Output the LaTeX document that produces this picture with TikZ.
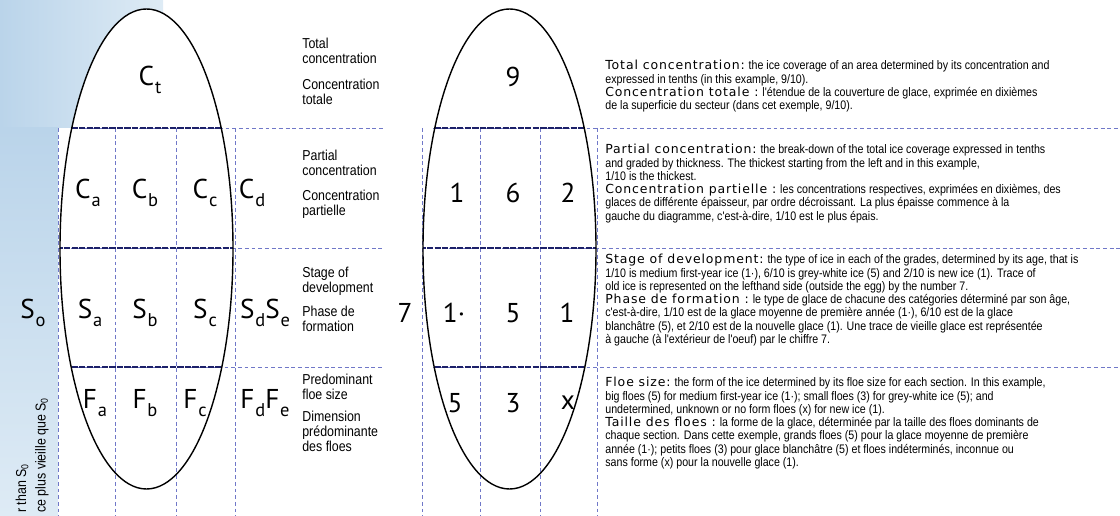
\documentclass[tikz,border=0pt]{standalone}
\usepackage{fontspec}
\setmainfont{Liberation Sans}
\newfontfamily\eggfont{PT Sans}
\newfontfamily\narrowfont[FakeStretch=0.86]{Liberation Sans}
\newfontfamily\headfont[LetterSpace=7]{DejaVu Sans}
\usetikzlibrary{positioning}

\definecolor{gridblue}{RGB}{112,120,200}
\definecolor{navy}{RGB}{28,32,105}
\definecolor{icebg}{RGB}{186,212,234}
\definecolor{icelight}{RGB}{222,235,245}

\newcommand{\eggsub}[2]{#1\kern0.5pt\raisebox{-0.55ex}{\fontsize{10.5}{10.5}\selectfont #2}}
\newcommand{\hd}[1]{{\headfont\fontsize{7.1}{7.55}\selectfont #1}}

\begin{document}
\begin{tikzpicture}[x=0.02cm,y=-0.02cm,
    cell/.style={font=\eggfont\fontsize{15.5}{15.5}\selectfont,inner sep=0pt},
    side/.style={font=\narrowfont\fontsize{8.2}{8.5}\selectfont,align=left,anchor=north west,inner sep=0pt},
    note/.style={font=\narrowfont\fontsize{7.05}{7.55}\selectfont,align=left,anchor=north west,inner sep=0pt},
    outer/.style={gridblue,dash pattern=on 2.2pt off 1.6pt,line width=0.5pt},
    inner/.style={navy,dash pattern=on 3.5pt off 0.8pt,line width=0.9pt},
    egg/.style={black,line width=0.8pt}]

    \useasboundingbox (0,0) rectangle (1120,516);
    \clip (0,0) rectangle (1120,516);

    % ice background on the left
    \shade[left color=icebg,right color=icelight] (0,0) rectangle (163,128);
    \shade[top color=icebg,bottom color=icelight] (0,128) rectangle (58,516);

    % the two eggs
    \fill[white] (146.5,249) ellipse [x radius=86.5,y radius=240];
    \fill[white] (509.5,249) ellipse [x radius=86.5,y radius=240];

    % grid, outside
    \foreach \gx in {58,115,176,235,422,480,540,597}
        \draw[outer] (\gx,128) -- (\gx,516);
    \draw[outer] (72,128) -- (383,128);
    \draw[outer] (58,248) -- (383,248);
    \draw[outer] (71,367) -- (383,367);
    \draw[outer] (433,128) -- (1120,128);
    \draw[outer] (422,248) -- (1120,248);
    \draw[outer] (433,367) -- (1120,367);

    % grid, inside the eggs
    \foreach \ex in {146.5,509.5} {
        \begin{scope}
            \clip (\ex,249) ellipse [x radius=86.5,y radius=240];
            \draw[inner] (\ex-90,128) -- (\ex+90,128);
            \draw[inner] (\ex-90,248) -- (\ex+90,248);
            \draw[inner] (\ex-90,367) -- (\ex+90,367);
        \end{scope}
        \draw[egg] (\ex,249) ellipse [x radius=86.5,y radius=240];
    }

    % symbols of the egg
    \node[cell] (ct) at (150,80) {\eggsub{C}{t}};
    \node[cell] (ca) at (88,193) {\eggsub{C}{a}};
    \node[cell] (cb) at (145,193) {\eggsub{C}{b}};
    \node[cell] (cc) at (205,193) {\eggsub{C}{c}};
    \node[cell] (cd) at (252,193) {\eggsub{C}{d}};
    \node[cell] (so) at (33,313) {\eggsub{S}{o}};
    \node[cell] (sa) at (90,313) {\eggsub{S}{a}};
    \node[cell] (sb) at (145,313) {\eggsub{S}{b}};
    \node[cell] (sc) at (205,313) {\eggsub{S}{c}};
    \node[cell] (sde) at (265,313) {\eggsub{S}{d}\eggsub{S}{e}};
    \node[cell] (fa) at (95,403) {\eggsub{F}{a}};
    \node[cell] (fb) at (145,403) {\eggsub{F}{b}};
    \node[cell] (fc) at (195,403) {\eggsub{F}{c}};
    \node[cell] (fde) at (265,403) {\eggsub{F}{d}\eggsub{F}{e}};

    % the example egg
    \node[cell] (nt) at (513,77) {9};
    \node[cell] (n1) at (457,193) {1};
    \node[cell] (n2) at (513,193) {6};
    \node[cell] (n3) at (568,193) {2};
    \node[cell] (old) at (405,313) {7};
    \node[cell] (s1) at (454,313) {1·};
    \node[cell] (s2) at (513,313) {5};
    \node[cell] (s3) at (567,313) {1};
    \node[cell] (f1) at (455,403) {5};
    \node[cell] (f2) at (513,403) {3};
    \node[cell] (f3) at (568,403) {x};

    % names between the eggs
    \node[side] (tot) at (302,38) {Total\\concentration};
    \node[side] (totf) at (302,79) {Concentration\\totale};
    \node[side] (part) at (302,150) {Partial\\concentration};
    \node[side] (partf) at (302,190) {Concentration\\partielle};
    \node[side] (stage) at (302,267) {Stage of\\development};
    \node[side] (stagef) at (302,306) {Phase de\\formation};
    \node[side] (floe) at (302,374) {Predominant\\floe size};
    \node[side] (floef) at (302,411) {Dimension\\prédominante\\des floes};

    % explanations
    \node[note] (ntot) at (605,60) {\hd{Total concentration:} the ice coverage of an area determined by its concentration and\\
        expressed in tenths (in this example, 9/10).\\
        \hd{Concentration totale :} l'étendue de la couverture de glace, exprimée en dixièmes\\
        de la superficie du secteur (dans cet exemple, 9/10).};
    \node[note] (npart) at (605,144) {\hd{Partial concentration:} the break-down of the total ice coverage expressed in tenths\\
        and graded by thickness. The thickest starting from the left and in this example,\\
        1/10 is the thickest.\\
        \hd{Concentration partielle :} les concentrations respectives, exprimées en dixièmes, des\\
        glaces de différente épaisseur, par ordre décroissant. La plus épaisse commence à la\\
        gauche du diagramme, c'est-à-dire, 1/10 est le plus épais.};
    \node[note] (nstage) at (605,254) {\hd{Stage of development:} the type of ice in each of the grades, determined by its age, that is\\
        1/10 is medium first-year ice (1·), 6/10 is grey-white ice (5) and 2/10 is new ice (1). Trace of\\
        old ice is represented on the lefthand side (outside the egg) by the number 7.\\
        \hd{Phase de formation :} le type de glace de chacune des catégories déterminé par son âge,\\
        c'est-à-dire, 1/10 est de la glace moyenne de première année (1·), 6/10 est de la glace\\
        blanchâtre (5), et 2/10 est de la nouvelle glace (1). Une trace de vieille glace est représentée\\
        à gauche (à l'extérieur de l'oeuf) par le chiffre 7.};
    \node[note] (nfloe) at (605,377) {\hd{Floe size:} the form of the ice determined by its floe size for each section. In this example,\\
        big floes (5) for medium first-year ice (1·); small floes (3) for grey-white ice (5); and\\
        undetermined, unknown or no form floes (x) for new ice (1).\\
        \hd{Taille des floes :} la forme de la glace, déterminée par la taille des floes dominants de\\
        chaque section. Dans cette exemple, grands floes (5) pour la glace moyenne de première\\
        année (1·); petits floes (3) pour glace blanchâtre (5) et floes indéterminés, inconnue ou\\
        sans forme (x) pour la nouvelle glace (1).};

    % cut text at the bottom left
    \node[side,rotate=90,anchor=west] (older) at (22,513) {r than S\textsubscript{0}};
    \node[side,rotate=90,anchor=west] (plus) at (42,513) {ce plus vieille que S\textsubscript{0}};
\end{tikzpicture}
\end{document}
